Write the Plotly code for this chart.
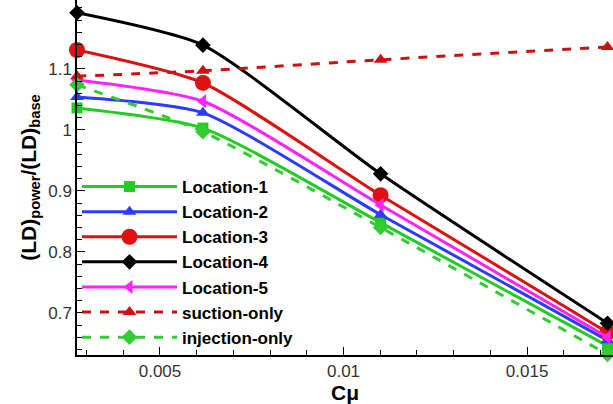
import plotly.graph_objects as go

cmu = [0.00274, 0.00617, 0.01101, 0.01719]
loc1 = [1.036, 1.003, 0.848, 0.646]
loc2 = [1.054, 1.028, 0.861, 0.655]
loc3 = [1.131, 1.077, 0.893, 0.668]
loc4 = [1.192, 1.139, 0.928, 0.683]
loc5 = [1.082, 1.047, 0.877, 0.660]
suction = [1.088, 1.097, 1.115, 1.136]
injection = [1.074, 0.997, 0.840, 0.632]

series = [
    ("Location-1", loc1, "#22cc22", "square", 11, "solid"),
    ("Location-2", loc2, "#2b3bff", "triangle-up", 12, "solid"),
    ("Location-3", loc3, "#dd1111", "circle", 16, "solid"),
    ("Location-4", loc4, "#000000", "diamond", 12, "solid"),
    ("Location-5", loc5, "#ff22ff", "triangle-left", 12, "solid"),
    ("suction-only", suction, "#cc1111", "triangle-up", 12, "dash"),
    ("injection-only", injection, "#33cc33", "diamond", 12, "dash"),
]

fig = go.Figure()
for name, ys, col, sym, sz, dash in series:
    fig.add_trace(go.Scatter(
        x=cmu, y=ys, name=name, mode="lines+markers",
        line=dict(color=col, width=3, dash=dash, shape="spline", smoothing=0.6),
        marker=dict(symbol=sym, size=sz, color=col),
        cliponaxis=False,
    ))

fig.update_layout(
    width=613, height=404,
    margin=dict(l=77, r=0, t=0, b=49),
    paper_bgcolor="white", plot_bgcolor="white",
    font=dict(family="Liberation Sans, Arial", color="#222"),
    showlegend=True,
    legend=dict(
        x=0.0, y=0.0, xanchor="left", yanchor="bottom",
        bgcolor="rgba(255,255,255,0)",
        font=dict(size=17, family="Liberation Sans, Arial", color="#000", weight="bold"),
        itemwidth=95, tracegroupgap=0,
        traceorder="normal",
    ),
    xaxis=dict(
        range=[0.00274, 0.01734],
        tickvals=[0.005, 0.01, 0.015], ticktext=["0.005", "0.01", "0.015"],
        ticks="inside", ticklen=8, tickwidth=1, tickcolor="#000",
        minor=dict(dtick=0.001, tick0=0, ticks="inside", ticklen=5, tickcolor="#000"),
        showline=True, linecolor="#000", linewidth=1.5,
        showgrid=False, zeroline=False,
        tickfont=dict(size=17, color="#333"),
        title=dict(text="<b>C\u03bc</b>", font=dict(size=21, color="#000"), standoff=2),
    ),
    yaxis=dict(
        range=[0.631, 1.213],
        tickvals=[0.7, 0.8, 0.9, 1.0, 1.1], ticktext=["0.7", "0.8", "0.9", "1", "1.1"],
        ticks="inside", ticklen=8, tickwidth=1, tickcolor="#000",
        minor=dict(dtick=0.02, tick0=0, ticks="inside", ticklen=5, tickcolor="#000"),
        showline=True, linecolor="#000", linewidth=1.5,
        showgrid=False, zeroline=False,
        tickfont=dict(size=17, color="#333"),
        title=dict(text="<b>(LD)<sub>power</sub>/(LD)<sub>base</sub></b>",
                   font=dict(size=21, color="#000"), standoff=6),
    ),
)

fig.write_html("out.html")
